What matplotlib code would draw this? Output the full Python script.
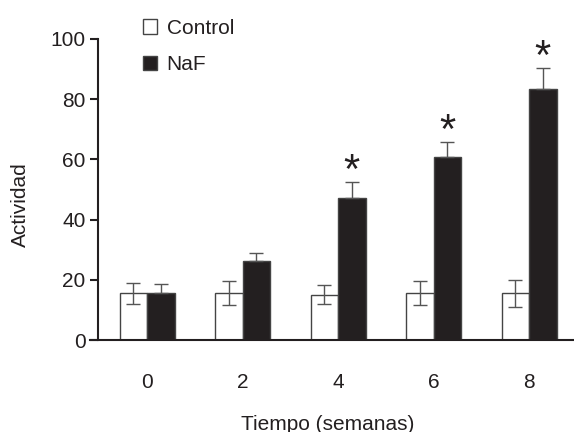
import matplotlib.pyplot as plt
import numpy as np
from matplotlib.patches import Patch

plt.rcParams['font.family'] = ['Liberation Sans', 'DejaVu Sans']

semanas = ['0', '2', '4', '6', '8']
control = [15.5, 15.5, 15.0, 15.5, 15.5]
control_err = [3.6, 4.0, 3.2, 4.0, 4.5]
naf = [15.5, 26.3, 47.2, 60.9, 83.5]
naf_err = [3.2, 2.7, 5.3, 5.0, 7.0]
signif = [False, False, True, True, True]

oscuro = '#231f20'

fig = plt.figure(figsize=(5.74, 4.32), dpi=100)
# ejes en pixeles: izquierda 90, derecha 574, abajo 340, arriba 39
ax = fig.add_axes([90 / 574, (432 - 340) / 432, 484 / 574, (340 - 39) / 432])

x = np.arange(len(semanas))
w = 0.288
ax.bar(x - w / 2, control, w, color='white', edgecolor='#444444', linewidth=1)
ax.bar(x + w / 2, naf, w, color=oscuro, edgecolor='#444444', linewidth=1)
ax.errorbar(x - w / 2, control, yerr=control_err, fmt='none', ecolor='#555555',
            elinewidth=1, capsize=5, capthick=1)
ax.errorbar(x + w / 2, naf, yerr=[np.zeros(len(naf)), naf_err], fmt='none',
            ecolor='#555555', elinewidth=1, capsize=5, capthick=1)

for i in range(len(semanas)):
    if signif[i]:
        ax.text(x[i] + w / 2, naf[i] + naf_err[i] + 3.3, '*', ha='center', va='center',
                fontsize=30, color=oscuro)

ax.set_xlim(-0.597, 4.471)
ax.set_ylim(0, 100)
ax.spines['left'].set_position(('data', -0.513))
ax.spines['top'].set_visible(False)
ax.spines['right'].set_visible(False)
ax.spines['left'].set_linewidth(1.5)
ax.spines['bottom'].set_linewidth(1.5)
ax.spines['left'].set_color(oscuro)
ax.spines['bottom'].set_color(oscuro)

ax.set_xticks(x)
ax.set_xticklabels(semanas)
ax.set_yticks([0, 20, 40, 60, 80, 100])
ax.tick_params(axis='x', length=0, pad=24, labelsize=15, colors=oscuro)
ax.tick_params(axis='y', length=6, width=1.5, pad=3, labelsize=15, colors=oscuro)

ax.set_ylabel('Actividad', fontsize=15, color=oscuro)
ax.yaxis.label.set_va('center')
ax.yaxis.set_label_coords((20 - 90) / 484, (340 - 205) / 301)
ax.set_xlabel('Tiempo (semanas)', fontsize=15, color=oscuro)
ax.xaxis.label.set_va('center')
ax.xaxis.set_label_coords((328 - 90) / 484, -(424 - 340) / 301)

handles = [Patch(facecolor='white', edgecolor='#444444', linewidth=1, label='Control'),
           Patch(facecolor=oscuro, edgecolor='#444444', linewidth=1, label='NaF')]
fig.legend(handles=handles, loc='upper left', bbox_to_anchor=(124 / 574, 1 - 0 / 432),
           frameon=False, fontsize=15, handlelength=0.7, handleheight=0.7,
           handletextpad=0.45, labelspacing=0.85, labelcolor=oscuro)

fig.savefig('out.png', dpi=100)
